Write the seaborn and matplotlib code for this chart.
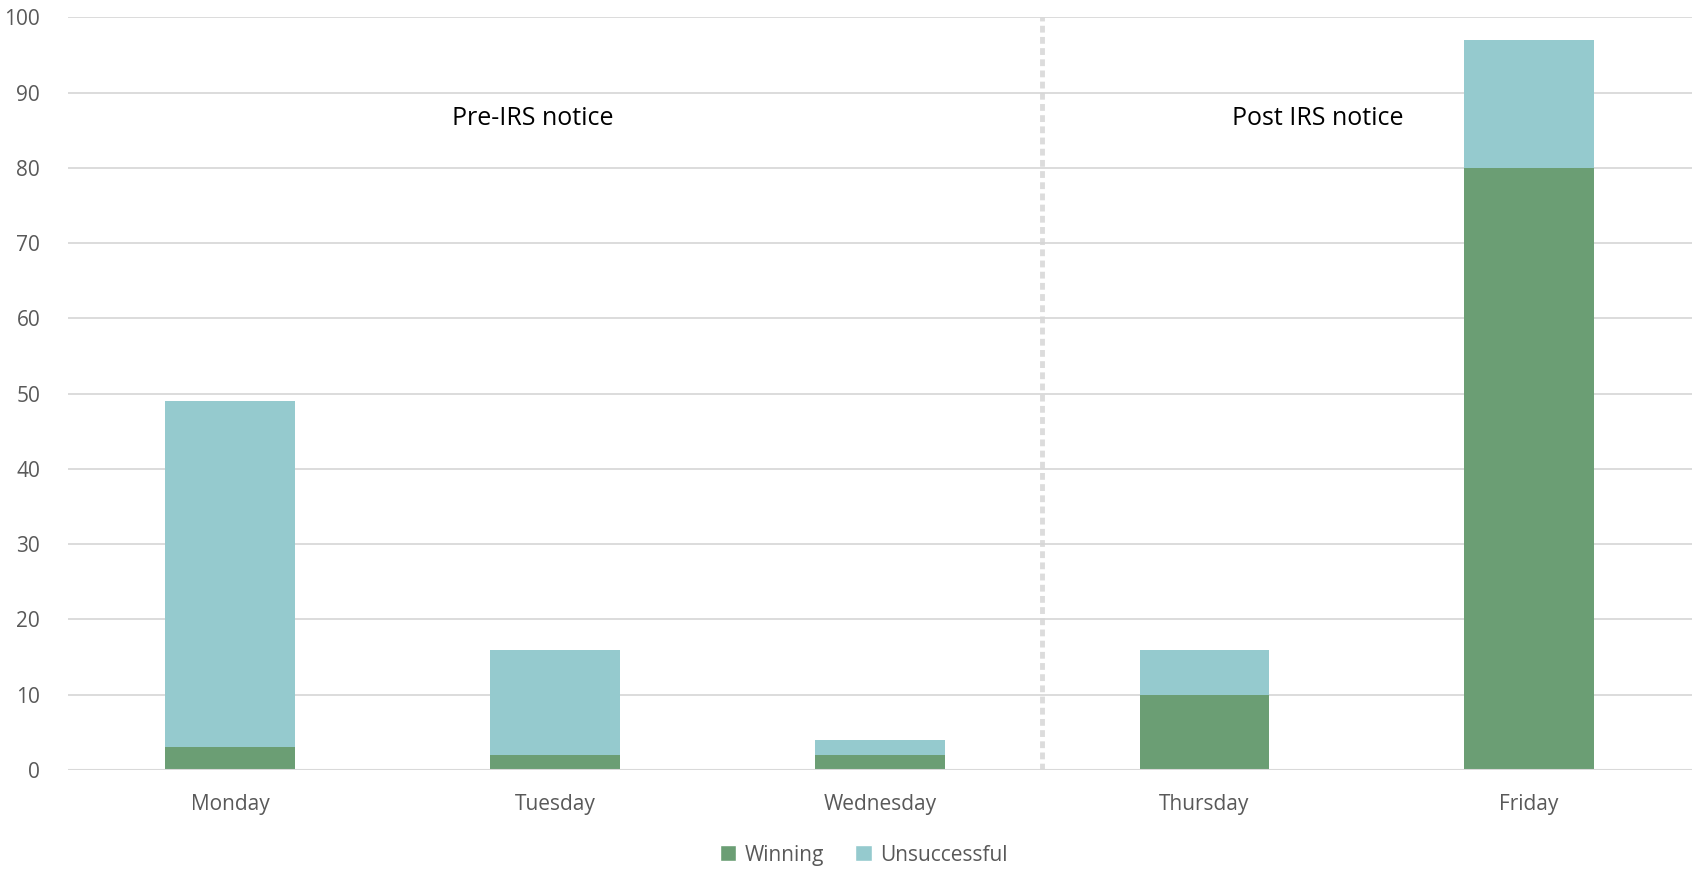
import matplotlib
matplotlib.use("Agg")
import matplotlib.pyplot as plt
import seaborn as sns
import pandas as pd
from matplotlib.patches import Patch

days = ["Monday", "Tuesday", "Wednesday", "Thursday", "Friday"]
winning = [3, 2, 2, 10, 80]
unsuccessful = [46, 14, 2, 6, 17]
yticks = [0, 10, 20, 30, 40, 50, 60, 70, 80, 90, 100]

GREEN = "#6B9E74"
TEAL = "#95CACE"
TXT = "#595959"
GRID = "#D9D9D9"

sns.set_theme(style="white")
plt.rcParams['font.family'] = ['Open Sans', 'DejaVu Sans']

df = pd.DataFrame({"day": days, "win": winning, "uns": unsuccessful})
df["total"] = df["win"] + df["uns"]

fig = plt.figure(figsize=(17, 8.69), dpi=100)
ax = fig.add_axes([0.04, 0.114, 0.955, 0.866])

sns.barplot(data=df, x="day", y="total", color=TEAL, width=0.4, ax=ax,
            saturation=1, zorder=3, linewidth=0, edgecolor="none")
sns.barplot(data=df, x="day", y="win", color=GREEN, width=0.4, ax=ax,
            saturation=1, zorder=3, linewidth=0, edgecolor="none")

ax.set_xlim(-0.5, 4.5)
ax.set_ylim(0, 100)
ax.set_yticks(yticks)
ax.yaxis.grid(True, color=GRID, linewidth=1.3, zorder=0)
ax.set_axisbelow(True)
for s in ["top", "right", "left", "bottom"]:
    ax.spines[s].set_visible(False)
ax.axhline(0, color=GRID, linewidth=1.5, zorder=4)
ax.set_xlabel("")
ax.set_ylabel("")
ax.tick_params(axis="both", length=0, labelsize=15, colors=TXT)
ax.tick_params(axis="y", pad=20)
ax.tick_params(axis="x", pad=17)

ax.axvline(2.5, ymin=0, ymax=1, color="#D6D6D6", linewidth=3.5,
           linestyle=(0, (1.4, 0.9)), zorder=2, alpha=0.85)

ax.text(0.93, 86.5, "Pre-IRS notice", ha="center", va="center",
        fontsize=18, color="black")
ax.text(3.35, 86.5, "Post IRS notice", ha="center", va="center",
        fontsize=18, color="black")

handles = [Patch(facecolor=GREEN, label="Winning"),
           Patch(facecolor=TEAL, label="Unsuccessful")]
leg = fig.legend(handles=handles, loc="center", bbox_to_anchor=(0.508, 0.016),
                 ncol=2, frameon=False, fontsize=15, handlelength=0.8,
                 handleheight=0.8, handletextpad=0.4, columnspacing=1.5)
for t in leg.get_texts():
    t.set_color(TXT)

fig.savefig("out.png", dpi=100)
